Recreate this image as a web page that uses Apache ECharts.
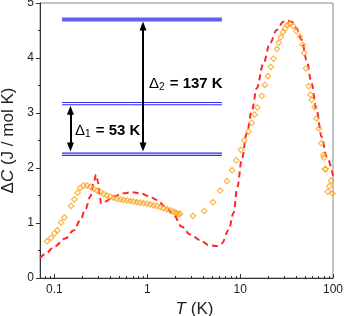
<!DOCTYPE html>
<html>
<head>
<meta charset="utf-8">
<script src="https://cdn.jsdelivr.net/npm/echarts@6/dist/echarts.min.js"></script>
<style>
html,body{margin:0;padding:0;background:#fff;}
#chart{width:345px;height:316px;}
</style>
</head>
<body>
<div id="chart"></div>
<script>
// Measured ΔC (orange diamonds)
const obsT = [0.0834,0.0923,0.100,0.108,0.118,0.128,0.151,0.164,0.178,0.190,0.206,0.225,0.244,0.265,0.288,0.312,0.339,0.368,0.400,0.434,0.472,0.512,0.556,0.605,0.657,0.713,0.775,0.841,0.913,0.993,1.08,1.17,1.27,1.38,1.50,1.63,1.77,1.92,2.00,2.08,2.17,2.26,3.1,4.1,5.1,6.1,7.2,8.2,9.1,10.2,11.1,12.3,13.3,14.3,15.3,17.1,18.5,19.9,21.4,22.9,24.9,26.1,27.4,29.0,30.6,32.3,34.4,37.2,40.4,44.1,47.3,49.0,51.2,54.6,57.3,59.0,63.5,66.5,70.5,75.0,78.5,80.0,82.0,83.5,88.0,91.5,95.5,98.5];
const obsC = [0.67,0.73,0.81,0.87,1.01,1.10,1.31,1.43,1.55,1.64,1.68,1.68,1.66,1.62,1.59,1.56,1.53,1.50,1.48,1.46,1.44,1.43,1.42,1.41,1.40,1.39,1.38,1.37,1.36,1.35,1.34,1.32,1.31,1.29,1.27,1.25,1.23,1.21,1.19,1.18,1.16,1.17,1.13,1.22,1.38,1.59,1.76,1.96,2.14,2.33,2.50,2.66,2.82,2.97,3.10,3.31,3.51,3.67,3.84,3.99,4.16,4.28,4.38,4.47,4.54,4.60,4.62,4.58,4.49,4.39,4.24,4.09,3.81,3.49,3.33,3.24,3.11,2.90,2.72,2.45,2.24,2.19,1.98,1.98,1.57,1.67,1.77,1.54];
// Model curve (red dashed)
const fitT = [0.07,0.08,0.1,0.131,0.162,0.19,0.215,0.244,0.265,0.281,0.295,0.307,0.32,0.354,0.434,0.556,0.685,0.841,1.03,1.27,1.56,1.92,2.36,2.9,3.7,4.56,5.6,6.35,7.5,8.5,9.35,10.4,11.8,13.4,15.1,17.8,21,24.8,29.2,31.6,35.9,40.5,46,52,58.8,66.5,75.4,85.3,100];
const fitC = [0.36,0.44,0.57,0.72,0.87,1.05,1.24,1.48,1.72,1.88,1.75,1.48,1.35,1.39,1.48,1.54,1.56,1.54,1.49,1.42,1.30,1.15,0.93,0.79,0.69,0.60,0.58,0.63,0.87,1.18,1.66,2.15,2.63,3.05,3.45,3.90,4.27,4.51,4.66,4.68,4.66,4.54,4.33,3.96,3.54,3.05,2.57,2.21,1.86];
// Energy level scheme
const levelT = [0.121, 6.36];
const levelTop = 4.70, levelMid = 3.17, levelBot = 2.25;
const arrowT = [0.149, 0.90];
const arrowFrom = [2.30, 2.30];
const arrowTo = [3.13, 4.66];
// Ticks
const xMajor = [0.1, 1, 10, 100];
const xMinor = [0.07,0.08,0.09,0.2,0.3,0.4,0.5,0.6,0.7,0.8,0.9,2,3,4,5,6,7,8,9,20,30,40,50,60,70,80,90];

const font = 'Liberation Sans, Arial, Helvetica, sans-serif';
const zip = (a, b) => a.map((v, i) => [v, b[i]]);
const chart = echarts.init(document.getElementById('chart'), null, {renderer: 'canvas'});

const levelLine = (y, w, c, z) => ({
  type: 'line', data: levelT.map(t => [t, y]), symbol: 'none', silent: true, z: z,
  lineStyle: {width: w, color: c}, animation: false
});
// arrowheads are centred on the line ends, so pull ends in by half a head (in y units)
const headHalf = 0.08;

chart.setOption({
  animation: false,
  grid: {left: 40, right: 12, top: 3, bottom: 38, show: true, borderColor: '#888', borderWidth: 1, containLabel: false, outerBoundsMode: 'none'},
  xAxis: [{
    type: 'log', logBase: 10, min: 0.07, max: 100, position: 'bottom',
    axisLine: {lineStyle: {color: '#333', width: 1}},
    axisTick: {inside: true, length: 4, customValues: xMajor, lineStyle: {color: '#333'}},
    axisLabel: {customValues: xMajor, formatter: v => String(+v.toPrecision(3)), color: '#222', fontSize: 12, fontFamily: font, margin: 6},
    splitLine: {show: false},
    name: '{i|T} (K)', nameLocation: 'middle', nameGap: 19,
    nameTextStyle: {fontSize: 17, fontFamily: font, color: '#222', padding: [0,0,0,16], rich: {i: {fontStyle: 'italic', fontSize: 17, fontFamily: font, color: '#222'}}}
  }, {
    type: 'log', logBase: 10, min: 0.07, max: 100, position: 'bottom',
    axisLine: {show: false},
    axisTick: {inside: true, length: 2, customValues: xMinor, lineStyle: {color: '#333'}},
    axisLabel: {show: false}, splitLine: {show: false}
  }],
  yAxis: {
    type: 'value', min: 0, max: 5, interval: 1,
    axisLine: {show: true, lineStyle: {color: '#333'}},
    axisTick: {show: true, length: 4, lineStyle: {color: '#333'}},
    minorTick: {show: true, splitNumber: 2, length: 2, lineStyle: {color: '#333'}},
    axisLabel: {color: '#222', fontSize: 12, fontFamily: font, margin: 6},
    splitLine: {show: false},
    name: '{d|Δ}{i|C} (J / mol K)', nameLocation: 'middle', nameGap: 21, nameRotate: 90,
    nameTextStyle: {fontSize: 17, fontFamily: font, color: '#222', rich: {d: {fontSize: 17, fontFamily: font, color: '#222'}, i: {fontStyle: 'italic', fontSize: 17, fontFamily: font, color: '#222'}}}
  },
  series: [
    levelLine(levelTop, 4, '#5f5ff2', 2),
    levelLine(levelMid, 3.4, '#2b2bf2', 2),
    levelLine(levelMid, 1.1, '#ffffff', 2),
    levelLine(levelBot, 3.4, '#2b2bf2', 2),
    levelLine(levelBot, 1.1, '#ffffff', 2),
    {
      type: 'line', data: [], silent: true,
      markLine: {
        silent: true, symbol: ['triangle', 'triangle'], symbolSize: [7, 9],
        label: {show: false},
        lineStyle: {color: '#000', width: 2, type: 'solid'},
        data: arrowT.map((t, i) => [{coord: [t, arrowFrom[i] + headHalf]}, {coord: [t, arrowTo[i] - headHalf]}])
      }
    },
    {
      type: 'line', data: zip(fitT, fitC), symbol: 'none', smooth: 0.35, smoothMonotone: 'x', z: 3,
      lineStyle: {color: '#ff2626', width: 2, type: [6, 4]}
    },
    {
      type: 'scatter', data: zip(obsT, obsC), symbol: 'diamond', symbolSize: 5.5, z: 4,
      itemStyle: {color: 'rgba(255,255,255,0)', borderColor: '#ffa21a', borderWidth: 1.2}
    }
  ],
  graphic: [
    {type: 'text', left: 75, top: 123, style: {
      text: '{d|Δ}{s|1}{b| = 53 K}', fill: '#000',
      rich: {
        d: {fontSize: 15, fontFamily: font, fill: '#000'},
        s: {fontSize: 10, fontFamily: font, fill: '#000', padding: [8, 1, 0, 0]},
        b: {fontSize: 15, fontWeight: 'bold', fontFamily: font, fill: '#000'}
      }}},
    {type: 'text', left: 149, top: 76, style: {
      text: '{d|Δ}{s|2}{b| = 137 K}', fill: '#000',
      rich: {
        d: {fontSize: 15, fontFamily: font, fill: '#000'},
        s: {fontSize: 10, fontFamily: font, fill: '#000', padding: [8, 1, 0, 0]},
        b: {fontSize: 15, fontWeight: 'bold', fontFamily: font, fill: '#000'}
      }}}
  ]
});
</script>
</body>
</html>
